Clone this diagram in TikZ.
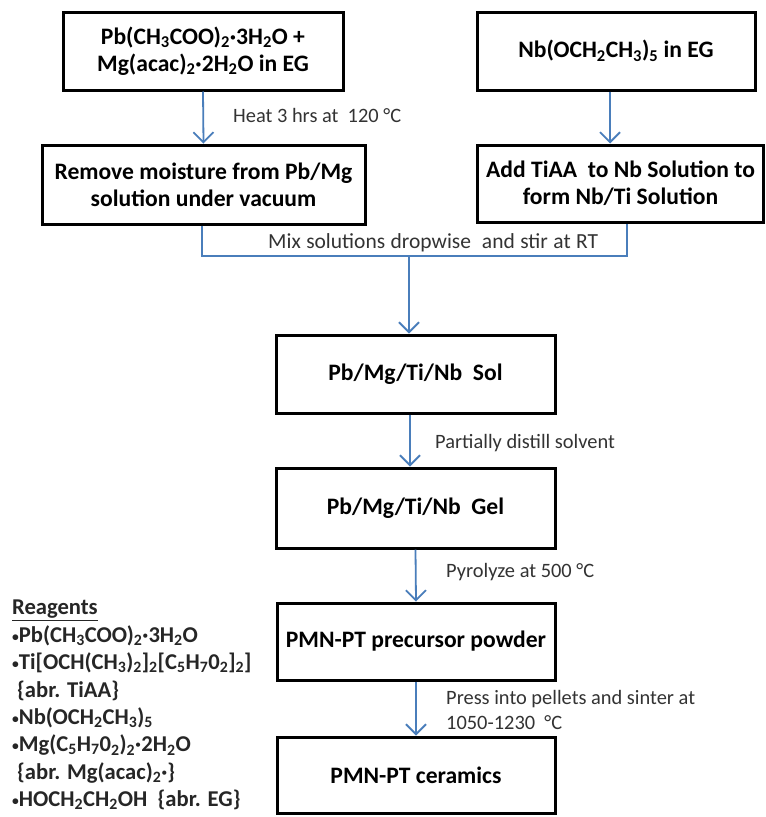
\documentclass[tikz,border=0pt]{standalone}
\usepackage{fontspec}
\setmainfont{Carlito}
\usetikzlibrary{arrows.meta}
\newcommand\sbs[1]{\textsubscript{#1}}
\newcommand\bul{\raisebox{0.1ex}{\scalebox{0.6}{•}}}
\definecolor{flowblue}{RGB}{74,126,187}
\begin{document}
\begin{tikzpicture}[x=1pt,y=-1pt,
  stepbox/.style={draw=black,line width=3pt,inner sep=2pt,align=center,
    font=\fontsize{23.6}{27}\selectfont\bfseries},
  note/.style={inner sep=0pt,align=left,font=\fontsize{20.4}{25}\selectfont,text=black!80},
  flow/.style={draw=flowblue,line width=1.8pt},
  flowarrow/.style={flow,-{Straight Barb[length=10pt,width=20pt,line width=1.8pt]}}]
\useasboundingbox (0,0) rectangle (766,817);
\fill[white] (0,0) rectangle (766,817);

% process boxes
\node[stepbox,minimum width=280pt,minimum height=78pt] (pbmg) at (203,51)
  {Pb(CH\sbs{3}COO)\sbs{2}·3H\sbs{2}O +\\Mg(acac)\sbs{2}·2H\sbs{2}O in EG};
\node[stepbox,minimum width=323pt,minimum height=79pt] (dry) at (203.5,184.5)
  {Remove moisture from Pb/Mg\\solution under vacuum};
\node[stepbox,minimum width=278pt,minimum height=78pt] (nb) at (616,51)
  {Nb(OCH\sbs{2}CH\sbs{3})\sbs{5} in EG};
\node[stepbox,minimum width=286pt,minimum height=77pt] (nbti) at (620.5,183.5)
  {Add TiAA\ \ to Nb Solution to\\form Nb/Ti Solution};
\node[stepbox,minimum width=279pt,minimum height=78pt] (sol) at (415.5,374)
  {Pb/Mg/Ti/Nb\ \ Sol};
\node[stepbox,minimum width=279pt,minimum height=80pt] (gel) at (415.5,508)
  {Pb/Mg/Ti/Nb\ \ Gel};
\node[stepbox,minimum width=278pt,minimum height=77pt] (powder) at (416,641.5)
  {PMN-PT precursor powder};
\node[stepbox,minimum width=278pt,minimum height=76pt] (ceram) at (416,775)
  {PMN-PT ceramics};

% connectors
\draw[flowarrow] (pbmg.south) -- (dry.north);
\draw[flowarrow] ([xshift=-6pt]nb.south) -- ([xshift=-6pt]nb.south |- nbti.north);
\coordinate (mixL) at (202,256);
\coordinate (mixR) at (627,256);
\coordinate (mixC) at (409,256);
\draw[flow] ([xshift=-1.5pt]dry.south) |- (mixL) -- (mixR) -- (mixR |- nbti.south);
\draw[flowarrow] (mixC) -- (mixC |- sol.north);
\draw[flowarrow] ([xshift=-5.5pt]sol.south) -- ([xshift=-5.5pt]sol.south |- gel.north);
\draw[flowarrow] (gel.south) -- (powder.north);
\draw[flowarrow] (powder.south) -- (ceram.north);

% step notes
\node[note,anchor=west] (n1) at (233,115) {Heat 3 hrs at\ \ 120 °C};
\node[note,anchor=west,font=\fontsize{21.5}{25}\selectfont] (n2) at (268,243)
  {\makebox[330pt][s]{Mix solutions dropwise\ \ and stir at RT}};
\node[note,anchor=west] (n3) at (435,443) {Partially distill solvent};
\node[note,anchor=west] (n4) at (446,572) {Pyrolyze at 500 °C};
\node[note,anchor=west] (n5) at (446,709.5) {Press into pellets and sinter at\\1050-1230\ \ °C};

% reagent list
\node[inner sep=0pt,align=left,anchor=north west,
  font=\fontsize{22.6}{27.4}\selectfont\bfseries,text=black!85] (reag) at (12,600)
  {\underline{Reagents}\\
   \bul Pb(CH\sbs{3}COO)\sbs{2}·3H\sbs{2}O\\
   \bul Ti[OCH(CH\sbs{3})\sbs{2}]\sbs{2}[C\sbs{5}H\sbs{7}0\sbs{2}]\sbs{2}]\\
   \hspace*{5pt}\{abr. TiAA\}\\
   \bul Nb(OCH\sbs{2}CH\sbs{3})\sbs{5}\\
   \bul Mg(C\sbs{5}H\sbs{7}0\sbs{2})\sbs{2}·2H\sbs{2}O\\
   \hspace*{5pt}\{abr. Mg(acac)\sbs{2}·\}\\
   \bul HOCH\sbs{2}CH\sbs{2}OH\ \ \{abr. EG\}};
\end{tikzpicture}
\end{document}
